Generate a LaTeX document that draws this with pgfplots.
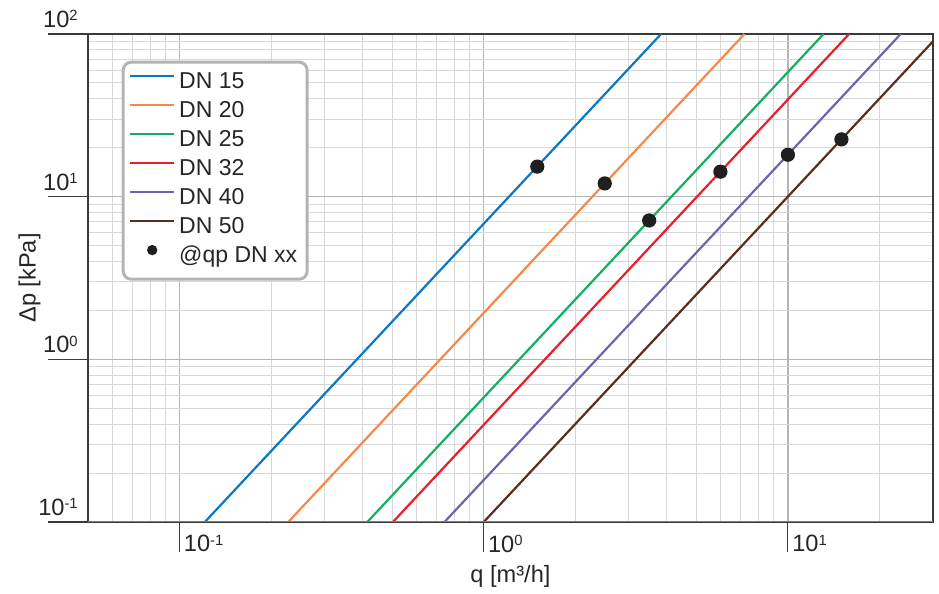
\documentclass[border=0pt]{standalone}
\usepackage{fontspec}
\setmainfont{Liberation Sans}
\usepackage{pgfplots}
\pgfplotsset{compat=1.18}

\definecolor{dn15}{HTML}{0A78C2}
\definecolor{dn20}{HTML}{F7884A}
\definecolor{dn25}{HTML}{12AE62}
\definecolor{dn32}{HTML}{E81E2A}
\definecolor{dn40}{HTML}{6E63AE}
\definecolor{dn50}{HTML}{5C2C1C}
\definecolor{gmaj}{HTML}{B4B4B4}
\definecolor{gmin}{HTML}{D8D8D8}
\definecolor{spine}{HTML}{3A3A3A}

% superscript exponent, top aligned with the digits
\newcommand\ex[1]{\raisebox{3.2pt}{\fontsize{7.4}{8}\selectfont #1}}

\begin{document}
\begin{tikzpicture}
\begin{loglogaxis}[
    scale only axis,
    width=422.5pt, height=244pt,
    xmin=0.05, xmax=30,
    ymin=0.1, ymax=100,
    xtick={0.1,1,10},
    xticklabels={10\ex{-1},10\ex{0},10\ex{1}},
    ytick={0.1,1,10,100},
    yticklabels={10\ex{-1},10\ex{0},10\ex{1},10\ex{2}},
    minor xtick={0.06,0.07,0.08,0.09,0.2,0.3,0.4,0.5,0.6,0.7,0.8,0.9,2,3,4,5,6,7,8,9,20},
    minor ytick={0.2,0.3,0.4,0.5,0.6,0.7,0.8,0.9,2,3,4,5,6,7,8,9,20,30,40,50,60,70,80,90},
    grid=both,
    major grid style={color=gmaj, line width=0.7pt},
    minor grid style={color=gmin, line width=0.5pt},
    axis line style={color=spine, line width=0.6pt},
    tick pos=left,
    tick align=outside,
    minor tick length=0pt,
    major tick length=20pt,
    xtick style={/pgfplots/major tick length=15pt, color=spine, line width=0.6pt},
    ytick style={/pgfplots/major tick length=20pt, color=spine, line width=0.6pt},
    tick label style={font=\fontsize{11.8}{13}\selectfont, text=black!85},
    xticklabel style={anchor=north west, inner sep=0pt, xshift=2pt, yshift=13.5pt},
    yticklabel style={anchor=south east, inner sep=0pt, xshift=15pt, yshift=3pt},
    xlabel={q [m³/h]},
    ylabel={Δp [kPa]},
    label style={font=\fontsize{11.8}{13}\selectfont, text=black!85},
    xlabel style={at={(axis description cs:0.5,-0.123)}, anchor=base},
    ylabel style={at={(axis description cs:-0.062,0.5)}, anchor=base},
    legend style={
        at={(0.0399,0.9453)}, anchor=north west,
        draw=gmaj, line width=1.5pt, rounded corners=4pt, fill=white,
        font=\fontsize{11.5}{13}\selectfont, text=black!85,
        inner xsep=3pt, inner ysep=3.5pt, row sep=0pt,
        nodes={inner ysep=0pt, text height=9.5pt, text depth=5pt},
    },
    legend cell align=left,
    every axis plot/.append style={line width=1.1pt},
    legend image code/.code={\draw[#1, line width=1pt] (0pt,3.8pt) -- (22pt,3.8pt);},
]
\addplot[dn15] coordinates {(0.1211,0.1) (3.83,100)};
\addlegendentry{DN 15}
\addplot[dn20] coordinates {(0.2277,0.1) (7.2,100)};
\addlegendentry{DN 20}
\addplot[dn25] coordinates {(0.4143,0.1) (13.1,100)};
\addlegendentry{DN 25}
\addplot[dn32] coordinates {(0.5028,0.1) (15.9,100)};
\addlegendentry{DN 32}
\addplot[dn40] coordinates {(0.7431,0.1) (23.5,100)};
\addlegendentry{DN 40}
\addplot[dn50] coordinates {(1.0,0.1) (30,90.1)};
\addlegendentry{DN 50}
\addplot[only marks, mark=*, mark size=3pt, color=black!88,
    legend image code/.code={\fill[black!88] (11pt,3.8pt) circle (2pt);}]
    coordinates {(1.5,15.3) (2.5,12.06) (3.5,7.14) (6,14.24) (10,18.1) (15,22.5)};
\addlegendentry{@qp DN xx}
\draw[color=black!50, line width=0.6pt] (rel axis cs:0,0) -- (rel axis cs:1,0);
\coordinate (ll) at (rel axis cs:0,0);
\coordinate (ur) at (rel axis cs:1,1);
\end{loglogaxis}
\pgfresetboundingbox
\path[use as bounding box] ([shift={(-44pt,-36pt)}]ll) rectangle ([shift={(3pt,17pt)}]ur);
\end{tikzpicture}
\end{document}
